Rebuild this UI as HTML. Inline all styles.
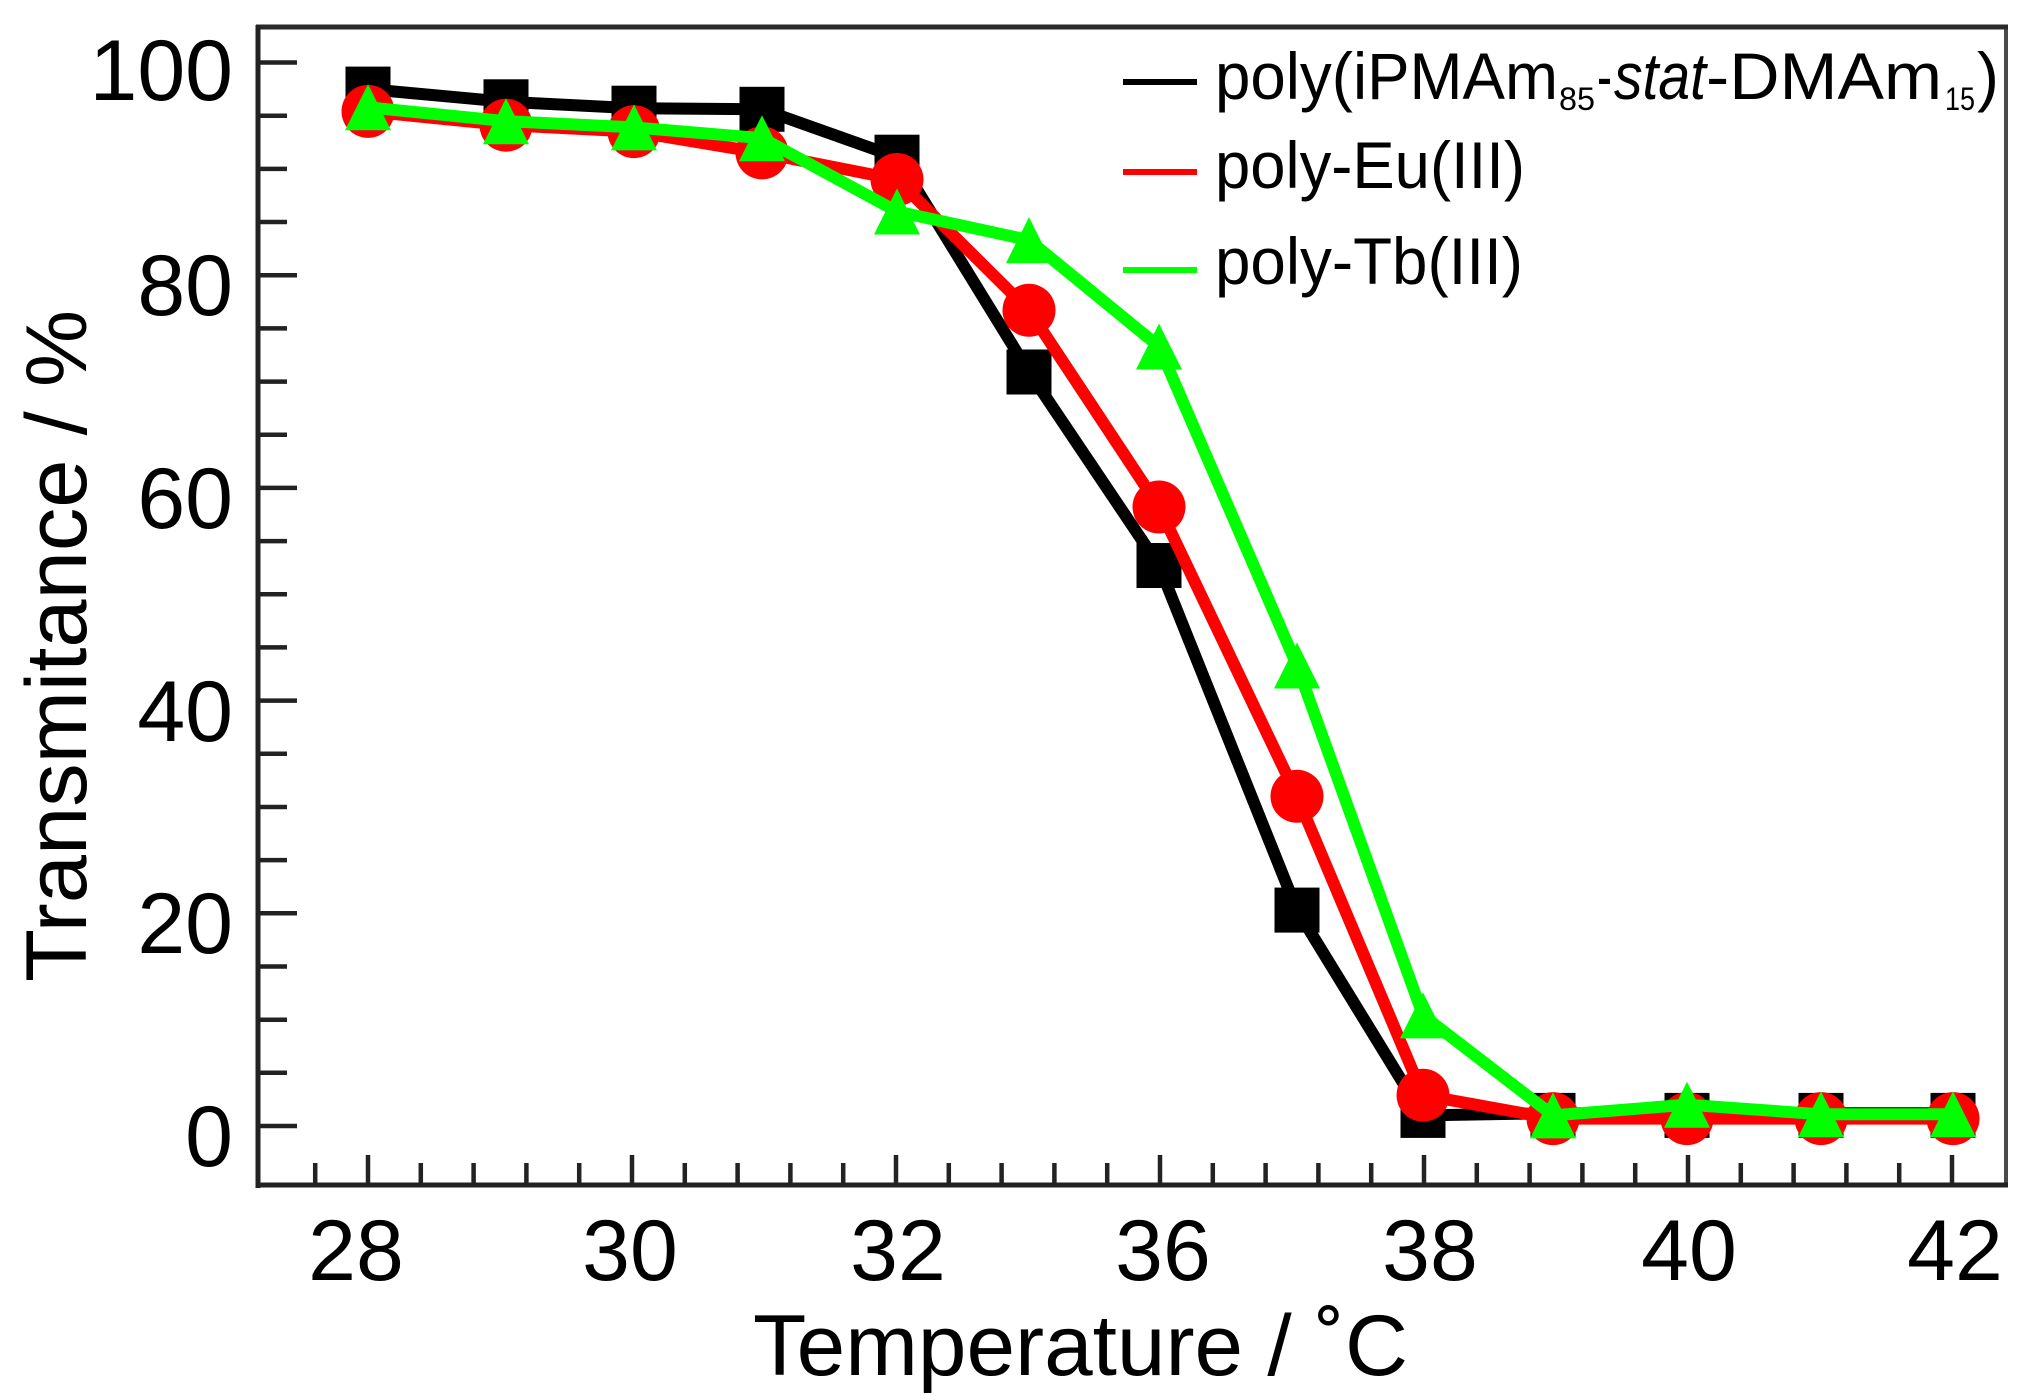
<!DOCTYPE html>
<html>
<head>
<meta charset="utf-8">
<style>
html,body{margin:0;padding:0;background:#fff;}
svg{display:block;}
text{font-family:"Liberation Sans",Arial,sans-serif;fill:#000;}
</style>
</head>
<body>
<svg width="2030" height="1400" viewBox="0 0 2030 1400" xmlns="http://www.w3.org/2000/svg">
<rect x="0" y="0" width="2030" height="1400" fill="#fff"/>

<!-- Y ticks -->
<path stroke="#222" stroke-width="4.5" fill="none" d="
M258 1126H297 M258 1072.8H287 M258 1019.7H287 M258 966.5H287
M258 913.3H297 M258 860.1H287 M258 807H287 M258 753.8H287
M258 700.6H297 M258 647.4H287 M258 594.3H287 M258 541.1H287
M258 487.9H297 M258 434.7H287 M258 381.6H287 M258 328.4H287
M258 275.2H297 M258 222H287 M258 168.9H287 M258 115.7H287
M258 62.5H297"/>

<!-- X ticks -->
<path stroke="#222" stroke-width="4.5" fill="none" d="
M315.2 1185V1163 M368 1185V1155 M420.8 1185V1163 M473.6 1185V1163 M526.4 1185V1163 M579.2 1185V1163
M632 1185V1155 M684.8 1185V1163 M737.6 1185V1163 M790.4 1185V1163 M843.2 1185V1163
M896 1185V1155 M948.8 1185V1163 M1001.6 1185V1163 M1054.4 1185V1163 M1107.2 1185V1163
M1160 1185V1155 M1212.8 1185V1163 M1265.6 1185V1163 M1318.4 1185V1163 M1371.2 1185V1163
M1424 1185V1155 M1476.8 1185V1163 M1529.6 1185V1163 M1582.4 1185V1163 M1635.2 1185V1163
M1688 1185V1155 M1740.8 1185V1163 M1793.6 1185V1163 M1846.4 1185V1163 M1899.2 1185V1163
M1952 1185V1155"/>

<!-- Axes frame -->
<line x1="2006" y1="27" x2="2006" y2="1187" stroke="#4a4a4a" stroke-width="4"/>
<line x1="256" y1="27" x2="2008" y2="27" stroke="#2a2a2a" stroke-width="5"/>
<line x1="256" y1="1185" x2="2008" y2="1185" stroke="#222" stroke-width="5"/>
<line x1="258" y1="25" x2="258" y2="1188" stroke="#222" stroke-width="5"/>

<!-- Y tick labels -->
<g font-size="86" text-anchor="end">
<text x="233" y="1166">0</text>
<text x="233" y="953">20</text>
<text x="233" y="741">40</text>
<text x="233" y="528">60</text>
<text x="233" y="315">80</text>
<text x="233" y="100">100</text>
</g>

<!-- X tick labels -->
<g font-size="86" text-anchor="middle">
<text x="356" y="1280">28</text>
<text x="630" y="1280">30</text>
<text x="898" y="1280">32</text>
<text x="1163" y="1280">36</text>
<text x="1430" y="1280">38</text>
<text x="1689" y="1280">40</text>
<text x="1955" y="1280">42</text>
</g>

<!-- Axis titles -->
<text x="753" y="1375" font-size="86" textLength="655" lengthAdjust="spacingAndGlyphs">Temperature / ˚C</text>
<text transform="translate(86,646) rotate(-90)" font-size="86" text-anchor="middle" textLength="672" lengthAdjust="spacingAndGlyphs">Transmitance / %</text>

<!-- Black series -->
<polyline fill="none" stroke="#000" stroke-width="12" stroke-linejoin="round"
points="368,89.1 506,101.8 634,108.2 762,109.3 897,157.2 1029,372 1159,565.5 1297,910.1 1423,1115.4 1553,1113.2 1687,1113.2 1821,1113.2 1953,1113.2"/>
<g fill="#000">
<rect x="345.5" y="66.6" width="45" height="45"/>
<rect x="483.5" y="79.3" width="45" height="45"/>
<rect x="611.5" y="85.7" width="45" height="45"/>
<rect x="739.5" y="86.8" width="45" height="45"/>
<rect x="874.5" y="134.7" width="45" height="45"/>
<rect x="1006.5" y="349.5" width="45" height="45"/>
<rect x="1136.5" y="543" width="45" height="45"/>
<rect x="1274.5" y="887.6" width="45" height="45"/>
<rect x="1400.5" y="1092.9" width="45" height="45"/>
<rect x="1530.5" y="1092.9" width="45" height="45"/>
<rect x="1664.5" y="1092.9" width="45" height="45"/>
<rect x="1798.5" y="1092.9" width="45" height="45"/>
<rect x="1930.5" y="1092.9" width="45" height="45"/>
</g>

<!-- Red series -->
<polyline fill="none" stroke="#ff0000" stroke-width="12" stroke-linejoin="round"
points="368,111.4 506,125.2 634,131.6 762,152.9 897,179.5 1029,310.3 1159,507 1297,796.3 1423,1095.2 1553,1118.6 1687,1118.6 1821,1118.6 1953,1118.6"/>
<g fill="#ff0000">
<circle cx="368" cy="111.4" r="26.5"/>
<circle cx="506" cy="125.2" r="26.5"/>
<circle cx="634" cy="131.6" r="26.5"/>
<circle cx="762" cy="152.9" r="26.5"/>
<circle cx="897" cy="179.5" r="26.5"/>
<circle cx="1029" cy="310.3" r="26.5"/>
<circle cx="1159" cy="507" r="26.5"/>
<circle cx="1297" cy="796.3" r="26.5"/>
<circle cx="1423" cy="1095.2" r="26.5"/>
<circle cx="1553" cy="1118.6" r="26.5"/>
<circle cx="1687" cy="1118.6" r="26.5"/>
<circle cx="1821" cy="1118.6" r="26.5"/>
<circle cx="1953" cy="1118.6" r="26.5"/>
</g>

<!-- Green series -->
<polyline fill="none" stroke="#00ff00" stroke-width="12" stroke-linejoin="round"
points="368,107.3 506,121.2 634,127.4 762,138.2 897,211.5 1029,240.1 1159,346.5 1297,665.5 1423,1015.4 1553,1115.4 1687,1104.7 1821,1114.3 1953,1114.3"/>
<g fill="#00ff00">
<polygon points="368,84.3 345,130.3 391,130.3"/>
<polygon points="506,98.2 483,144.2 529,144.2"/>
<polygon points="634,104.4 611,150.4 657,150.4"/>
<polygon points="762,115.2 739,161.2 785,161.2"/>
<polygon points="897,188.5 874,234.5 920,234.5"/>
<polygon points="1029,217.1 1006,263.1 1052,263.1"/>
<polygon points="1159,323.5 1136,369.5 1182,369.5"/>
<polygon points="1297,642.5 1274,688.5 1320,688.5"/>
<polygon points="1423,992.4 1400,1038.4 1446,1038.4"/>
<polygon points="1553,1092.4 1530,1138.4 1576,1138.4"/>
<polygon points="1687,1081.7 1664,1127.7 1710,1127.7"/>
<polygon points="1821,1091.3 1798,1137.3 1844,1137.3"/>
<polygon points="1953,1091.3 1930,1137.3 1976,1137.3"/>
</g>

<!-- Legend -->
<line x1="1123" y1="82" x2="1197" y2="82" stroke="#000" stroke-width="6"/>
<line x1="1123" y1="172" x2="1197" y2="172" stroke="#ff0000" stroke-width="6"/>
<line x1="1123" y1="270" x2="1197" y2="270" stroke="#00ff00" stroke-width="6"/>

<text x="1215" y="99" font-size="66" textLength="343" lengthAdjust="spacingAndGlyphs">poly(iPMAm</text>
<text x="1559" y="110" font-size="32" textLength="36" lengthAdjust="spacingAndGlyphs">85</text>
<text x="1597" y="99" font-size="66" textLength="15" lengthAdjust="spacingAndGlyphs">-</text>
<text x="1614" y="99" font-size="66" font-style="italic" textLength="92" lengthAdjust="spacingAndGlyphs">stat</text>
<text x="1706" y="99" font-size="66" textLength="236" lengthAdjust="spacingAndGlyphs">-DMAm</text>
<text x="1945" y="110" font-size="32" textLength="30" lengthAdjust="spacingAndGlyphs">15</text>
<text x="1977" y="99" font-size="66">)</text>

<text x="1215" y="188" font-size="66" textLength="310" lengthAdjust="spacingAndGlyphs">poly-Eu(III)</text>
<text x="1215" y="284" font-size="66" textLength="308" lengthAdjust="spacingAndGlyphs">poly-Tb(III)</text>
</svg>
</body>
</html>
